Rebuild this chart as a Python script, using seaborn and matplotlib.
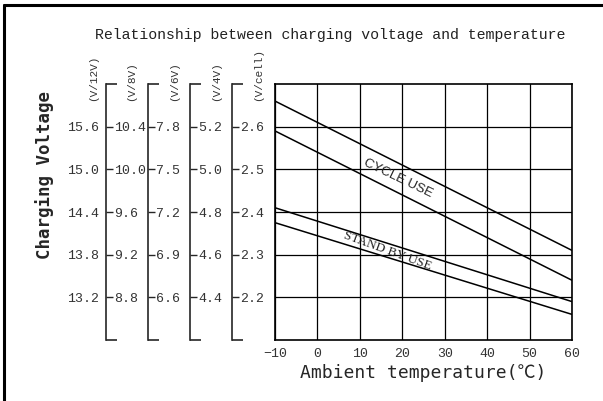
import matplotlib
matplotlib.use("Agg")
import matplotlib.pyplot as plt
import pandas as pd
import seaborn as sns
from matplotlib.lines import Line2D

# ---- data ----
temps = [-10, 60]
cycle_upper = [2.66, 2.31]
cycle_lower = [2.59, 2.24]
standby_upper = [2.41, 2.19]
standby_lower = [2.375, 2.16]

x_ticks = [-10, 0, 10, 20, 30, 40, 50, 60]
cell_ticks = [2.2, 2.3, 2.4, 2.5, 2.6]
cell_range = [2.1, 2.7]

labels_12v = ["13.2", "13.8", "14.4", "15.0", "15.6"]
labels_8v = ["8.8", "9.2", "9.6", "10.0", "10.4"]
labels_6v = ["6.6", "6.9", "7.2", "7.5", "7.8"]
labels_4v = ["4.4", "4.6", "4.8", "5.0", "5.2"]
labels_cell = ["2.2", "2.3", "2.4", "2.5", "2.6"]

scale_names = ["(V/12V)", "(V/8V)", "(V/6V)", "(V/4V)", "(V/cell)"]
scale_cells = [6, 4, 3, 2, 1]

band_texts = ["CYCLE USE", "STAND BY USE"]
band_text_pos = [(18.9, 2.478), (16.6, 2.309)]

title = "Relationship between charging voltage and temperature"
ylabel = "Charging Voltage"
xlabel = "Ambient temperature(℃)"

# ---- styling ----
sns.set_style("white")
MONO = ["Liberation Mono", "DejaVu Sans Mono"]
plt.rcParams["font.family"] = MONO

W, H = 603, 401
fig = plt.figure(figsize=(W / 100, H / 100), dpi=100)
L, R, T, B = 275, 572, 84, 340
ax = fig.add_axes([L / W, (H - B) / H, (R - L) / W, (B - T) / H])

rows = []
for name, vals in [("cu", cycle_upper), ("cl", cycle_lower),
                   ("su", standby_upper), ("sl", standby_lower)]:
    for t, v in zip(temps, vals):
        rows.append({"curve": name, "temp": t, "volt": v})
df = pd.DataFrame(rows)

sns.lineplot(data=df, x="temp", y="volt", units="curve", estimator=None,
             color="black", linewidth=1.1, ax=ax, legend=False)

ax.set_xlim(temps[0], temps[-1])
ax.set_ylim(*cell_range)
ax.set_xticks(x_ticks)
ax.set_xticklabels([str(t) if t >= 0 else "−" + str(-t) for t in x_ticks])
ax.set_yticks(cell_ticks)
ax.set_yticklabels([])
ax.tick_params(axis="both", length=0)
ax.tick_params(axis="x", pad=6, labelsize=9.5, colors="#333333")
ax.grid(True, color="black", linewidth=0.9)
for s in ax.spines.values():
    s.set_color("black")
    s.set_linewidth(1.2)
ax.set_xlabel(xlabel, fontsize=13, family=["DejaVu Sans Mono", "Noto Sans CJK SC"], labelpad=3)
ax.set_ylabel("")

def frac(px):
    return (px - L) / (R - L)

bracket_px = [106, 148, 190, 232]
right_scales = [(4, labels_8v), (3, labels_6v), (2, labels_4v), (1, labels_cell)]
for pos, (cells, labs) in zip(bracket_px, right_scales):
    tw = ax.twinx()
    tw.set_ylim(cells * cell_range[0], cells * cell_range[1])
    tw.set_yticks([cells * t for t in cell_ticks])
    tw.set_yticklabels(labs)
    tw.set_yticks([cells * cell_range[0], cells * cell_range[1]], minor=True)
    for k in ["top", "bottom", "left"]:
        tw.spines[k].set_visible(False)
    tw.spines["right"].set_position(("axes", frac(pos)))
    tw.spines["right"].set_linewidth(1.2)
    tw.tick_params(axis="y", which="major", direction="out", length=5, width=1.0,
                   pad=1, labelsize=9.5, labelcolor="#333333")
    tw.tick_params(axis="y", which="minor", direction="out", length=8, width=1.2)
    tw.grid(False)

tw12 = ax.twinx()
tw12.yaxis.set_ticks_position("left")
tw12.yaxis.set_label_position("left")
tw12.set_ylim(6 * cell_range[0], 6 * cell_range[1])
tw12.set_yticks([6 * t for t in cell_ticks])
tw12.set_yticklabels(labels_12v)
for k in tw12.spines:
    tw12.spines[k].set_visible(False)
tw12.spines["left"].set_position(("axes", frac(bracket_px[0])))
tw12.tick_params(axis="y", length=0, pad=5, labelsize=9.5, labelcolor="#333333")
tw12.grid(False)

unit_px = [93, 131, 174, 216, 258]
for name, px in zip(scale_names, unit_px):
    ax.text(frac(px), (B - 101) / (B - T), name, transform=ax.transAxes,
            rotation=90, ha="center", va="bottom", fontsize=8, color="#333333")

ax.text(*band_text_pos[0], band_texts[0], rotation=-25.5, rotation_mode="anchor",
        ha="center", va="center", fontsize=9.5, fontweight="medium",
        family="Liberation Sans")
ax.text(*band_text_pos[1], band_texts[1], rotation=-20, rotation_mode="anchor",
        ha="center", va="center", fontsize=9.5, family="Liberation Serif")

fig.text(330 / W, 1 - 35 / H, title, ha="center", va="center", fontsize=10.7,
         color="#222222")
fig.text(45 / W, 1 - 175 / H, ylabel, rotation=90, ha="center", va="center",
         fontsize=12.5, fontweight="bold", family="DejaVu Sans Mono")

fig.add_artist(Line2D([4 / W, 1], [1 - 5 / H, 1 - 5 / H], transform=fig.transFigure,
                      color="black", linewidth=2.2))
fig.add_artist(Line2D([4 / W, 4 / W], [0, 1 - 5 / H], transform=fig.transFigure,
                      color="black", linewidth=2.2))

fig.savefig("out.png", dpi=100)
